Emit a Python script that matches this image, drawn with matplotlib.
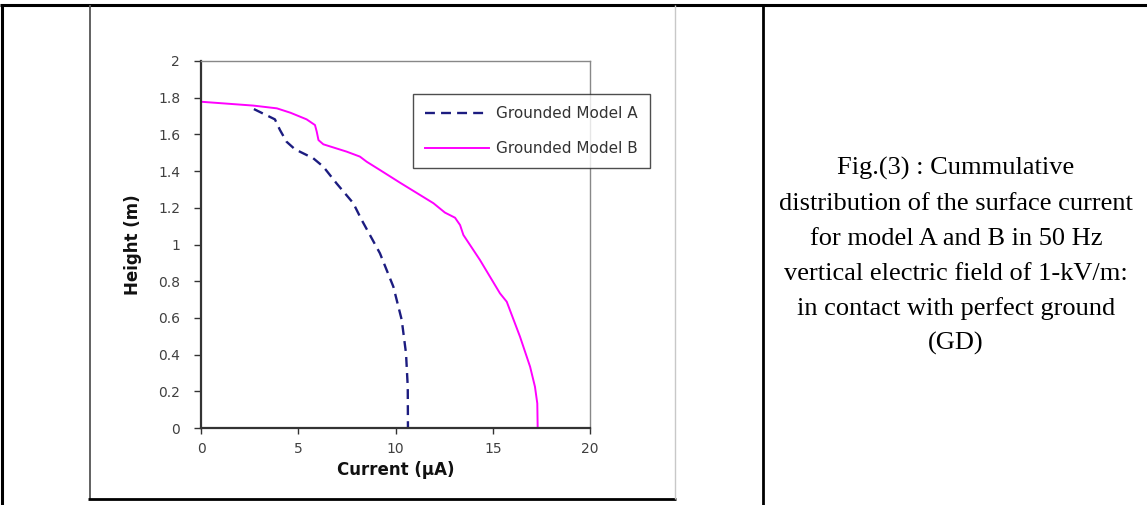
import matplotlib
matplotlib.use("Agg")
import matplotlib.pyplot as plt
from matplotlib.lines import Line2D

# ---- data ----
model_a_current = [2.72, 3.8, 4.06, 4.4, 4.83, 5.77, 6.29, 6.97, 7.83, 8.26, 9.2, 9.89, 10.32, 10.54, 10.63, 10.64]
model_a_height = [1.738, 1.682, 1.624, 1.56, 1.519, 1.47, 1.424, 1.333, 1.225, 1.134, 0.952, 0.77, 0.589, 0.407, 0.225, 0.0]

model_b_current = [0.0, 2.69, 3.9, 4.6, 5.43, 5.86, 5.95, 6.04, 6.29, 7.49, 8.17, 8.52, 9.2, 10.23, 11.95,
                   12.54, 13.06, 13.32, 13.49, 14.34, 15.37, 15.72, 16.4, 16.92, 17.17, 17.29, 17.31]
model_b_height = [1.778, 1.757, 1.742, 1.718, 1.682, 1.651, 1.615, 1.569, 1.546, 1.506, 1.479, 1.451, 1.406,
                  1.337, 1.225, 1.174, 1.146, 1.106, 1.052, 0.916, 0.734, 0.688, 0.498, 0.334, 0.225, 0.134, 0.0]

series_labels = ["Grounded Model A", "Grounded Model B"]
x_ticks = [0, 5, 10, 15, 20]
y_ticks = [0, 0.2, 0.4, 0.6, 0.8, 1, 1.2, 1.4, 1.6, 1.8, 2]
y_tick_labels = ["0", "0.2", "0.4", "0.6", "0.8", "1", "1.2", "1.4", "1.6", "1.8", "2"]
x_label = "Current (μA)"
y_label = "Height (m)"
caption_lines = ["Fig.(3) : Cummulative",
                 "distribution of the surface current",
                 "for model A and B in 50 Hz",
                 "vertical electric field of 1-kV/m:",
                 "in contact with perfect ground",
                 "(GD)"]

W, H = 1147, 505
fig = plt.figure(figsize=(W / 100, H / 100), dpi=100)
fig.patch.set_facecolor("white")


def fx(x):
    return x / W


def fy(y):
    return 1 - y / H


# axes placement (pixels)
L, R, T, B = 201, 590, 61, 428
ax = fig.add_axes([fx(L), fy(B), (R - L) / W, (B - T) / H])

la, = ax.plot(model_a_current, model_a_height, color="#1c1c80", lw=1.7, label=series_labels[0])
la.set_dashes([4.2, 2.6])
lb, = ax.plot(model_b_current, model_b_height, color="#ff00ff", lw=1.4, label=series_labels[1])

ax.set_xlim(0, 20)
ax.set_ylim(0, 2)
ax.set_xticks(x_ticks)
ax.set_yticks(y_ticks)
ax.set_yticklabels(y_tick_labels)

tick_color = "#404040"
ax.tick_params(axis="y", direction="out", length=5, width=1, pad=10, colors="#333333",
               labelsize=10, labelcolor=tick_color)
ax.tick_params(axis="x", direction="out", length=4, width=1, pad=6, colors="#333333",
               labelsize=10, labelcolor=tick_color)

for s in ["left", "bottom"]:
    ax.spines[s].set_color("#333333")
    ax.spines[s].set_linewidth(1.6)
for s in ["top", "right"]:
    ax.spines[s].set_color("#888888")
    ax.spines[s].set_linewidth(1.0)

ax.set_xlabel(x_label, fontsize=12, fontweight="bold", color="#111111")
ax.xaxis.set_label_coords(0.5, (B - 470) / (B - T))
ax.xaxis.label.set_va("center")
ax.set_ylabel(y_label, fontsize=12, fontweight="bold", color="#111111")
ax.yaxis.set_label_coords((133 - L) / (R - L), 0.5)
ax.yaxis.label.set_va("center")

leg = fig.legend(handles=[la, lb], loc="upper left", bbox_to_anchor=(fx(413), fy(94)),
                 bbox_transform=fig.transFigure, borderaxespad=0, frameon=True, fancybox=False,
                 fontsize=11, handlelength=4.2, handletextpad=0.45, labelspacing=1.3,
                 borderpad=0.8)
leg.get_frame().set_edgecolor("#222222")
leg.get_frame().set_linewidth(1.0)
for t in leg.get_texts():
    t.set_color("#333333")

# table / frame lines (pixel positions)
def pline(x0, y0, x1, y1, color, lw):
    fig.add_artist(Line2D([fx(x0), fx(x1)], [fy(y0), fy(y1)], color=color, lw=lw,
                          transform=fig.transFigure, solid_capstyle="butt"))

pline(0, 5, W, 5, "black", 2.2)       # top border
pline(2, 5, 2, H, "black", 2.2)       # left border
pline(763, 5, 763, H, "black", 2.0)   # column divider
pline(90, 5, 90, 500, "#555555", 1.3)  # chart frame left
pline(88, 499, 676, 499, "black", 2.0)  # chart frame bottom
pline(675, 5, 675, 499, "#c8c8c8", 1.0)  # chart frame right

# caption
baselines = [175, 210, 245, 280, 315, 350]
for line, yb in zip(caption_lines, baselines):
    fig.text(fx(956), fy(yb), line, ha="center", va="baseline", fontsize=19,
             family="Liberation Serif", color="black")

fig.savefig("out.png", dpi=100, facecolor="white")
